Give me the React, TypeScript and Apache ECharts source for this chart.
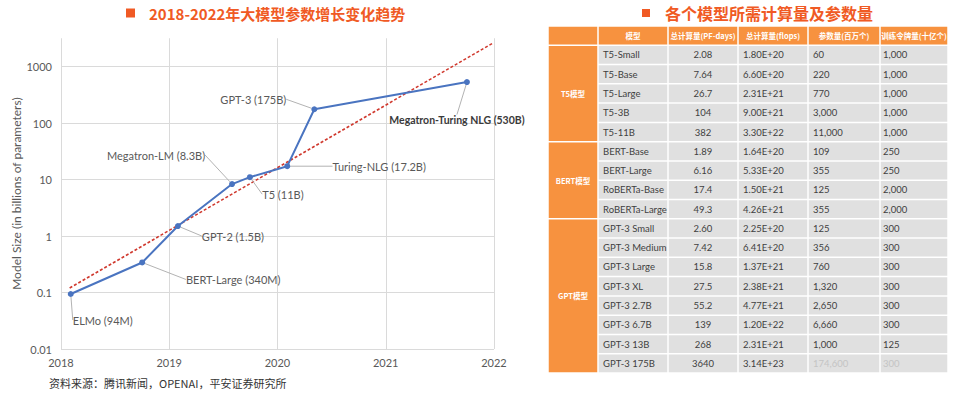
import React, { useEffect, useRef } from 'react';
import * as echarts from 'echarts';

// ---------- Left chart data ----------
const modelNames = [
  'ELMo (94M)',
  'BERT-Large (340M)',
  'GPT-2 (1.5B)',
  'Megatron-LM (8.3B)',
  'T5 (11B)',
  'Turing-NLG (17.2B)',
  'GPT-3 (175B)',
  'Megatron-Turing NLG (530B)',
];
const releaseYear = [2018.09, 2018.75, 2019.08, 2019.58, 2019.745, 2020.09, 2020.34, 2021.75];
const sizeBillions = [0.094, 0.34, 1.5, 8.3, 11, 17.2, 175, 530];
const trendYear = [2018.08, 2021.99];
const trendSize = [0.12, 2600];
const yTickValues = [0.01, 0.1, 1, 10, 100, 1000];

// ---------- Right table data ----------
const groupNames = ['T5模型', 'BERT模型', 'GPT模型'];
const groupSizes = [5, 4, 8];
const headers = ['', '模型', '总计算量(PF-days)', '总计算量(flops)', '参数量(百万个)', '训练令牌量(十亿个)'];
const tableModels = [
  'T5-Small', 'T5-Base', 'T5-Large', 'T5-3B', 'T5-11B',
  'BERT-Base', 'BERT-Large', 'RoBERTa-Base', 'RoBERTa-Large',
  'GPT-3 Small', 'GPT-3 Medium', 'GPT-3 Large', 'GPT-3 XL', 'GPT-3 2.7B', 'GPT-3 6.7B', 'GPT-3 13B', 'GPT-3 175B',
];
const pfDays = ['2.08', '7.64', '26.7', '104', '382', '1.89', '6.16', '17.4', '49.3', '2.60', '7.42', '15.8', '27.5', '55.2', '139', '268', '3640'];
const flops = ['1.80E+20', '6.60E+20', '2.31E+21', '9.00E+21', '3.30E+22', '1.64E+20', '5.33E+20', '1.50E+21', '4.26E+21', '2.25E+20', '6.41E+20', '1.37E+21', '2.38E+21', '4.77E+21', '1.20E+22', '2.31E+21', '3.14E+23'];
const paramsMillions = ['60', '220', '770', '3,000', '11,000', '109', '355', '125', '355', '125', '356', '760', '1,320', '2,650', '6,660', '1,000', '174,600'];
const tokensBillions = ['1,000', '1,000', '1,000', '1,000', '1,000', '250', '250', '2,000', '2,000', '300', '300', '300', '300', '300', '300', '125', '300'];

// ---------- Layout / style constants ----------
const LABEL_OFFSETS = [[32, 26], [91, 17], [55, 10], [-76, -29], [33, 17], [92, 0], [-61, -10], [-10, 38]];
const COL_EDGES = [0, 50, 120, 190, 260, 332, 400];
const COL_ALIGN = ['center', 'left', 'center', 'left', 'left', 'left'];
const COL_PAD = [0, 5, 0, 5, 5, 3];
const ORANGE = '#f7923f';
const TITLE_COLOR = '#f05a24';
const TEXT_GRAY = '#595959';
const LATIN = 'Lato, "Noto Sans", sans-serif';
const CJK = '"Noto Sans CJK SC", "Noto Sans", sans-serif';

type Cell = { c: number; r0: number; r1: number; text: string; kind: 'head' | 'group' | 'data'; faint?: boolean };

function buildCells(): Cell[] {
  const cells: Cell[] = [];
  headers.forEach((h, c) => cells.push({ c, r0: 0, r1: 0, text: h, kind: 'head' }));
  let start = 1;
  groupNames.forEach((g, i) => {
    cells.push({ c: 0, r0: start, r1: start + groupSizes[i] - 1, text: g, kind: 'group' });
    start += groupSizes[i];
  });
  const cols = [tableModels, pfDays, flops, paramsMillions, tokensBillions];
  tableModels.forEach((_, i) => {
    cols.forEach((col, j) => {
      const last = i === tableModels.length - 1;
      cells.push({ c: j + 1, r0: i + 1, r1: i + 1, text: col[i], kind: 'data', faint: last && j >= 3 });
    });
  });
  return cells;
}

export default function App() {
  const ref = useRef<HTMLDivElement>(null);
  useEffect(() => {
    document.body.style.margin = '0';
    const chart = echarts.init(ref.current!, null, { renderer: 'svg' });
    const cells = buildCells();
    const rowKeys = ['header', ...tableModels];

    const option: any = {
      animation: false,
      backgroundColor: '#ffffff',
      title: [
        {
          text: '2018-2022年大模型参数增长变化趋势',
          left: 149,
          top: 4,
          padding: 0,
          textStyle: { color: TITLE_COLOR, fontSize: 15, fontWeight: 'bold', fontFamily: CJK, lineHeight: 18 },
        },
        {
          text: '各个模型所需计算量及参数量',
          left: 665,
          top: 4,
          padding: 0,
          textStyle: { color: TITLE_COLOR, fontSize: 16, fontWeight: 'bold', fontFamily: CJK, lineHeight: 18 },
        },
      ],
      graphic: [
        { type: 'rect', shape: { x: 126, y: 8.5, width: 9, height: 9 }, style: { fill: TITLE_COLOR } },
        { type: 'rect', shape: { x: 642, y: 9, width: 8, height: 8 }, style: { fill: TITLE_COLOR } },
        {
          type: 'text',
          x: 49,
          y: 383,
          style: {
            text: '资料来源：腾讯新闻，OPENAI，平安证券研究所',
            fill: '#333333',
            font: '11px "Noto Sans CJK SC", sans-serif',
            verticalAlign: 'middle',
          },
        },
      ],
      grid: [
        { left: 61, top: 38.25, width: 433, height: 310.75 },
        { left: 548, top: 26, width: 400, height: 347 },
      ],
      xAxis: [
        {
          type: 'value',
          gridIndex: 0,
          min: 2018,
          max: 2022,
          interval: 1,
          axisLine: { show: false },
          axisTick: { show: false },
          axisLabel: { color: TEXT_GRAY, fontSize: 11, fontFamily: LATIN, margin: 8, formatter: (v: number) => String(v) },
          splitLine: { show: true, lineStyle: { color: '#dadada', width: 1 } },
        },
        { type: 'value', gridIndex: 1, min: 0, max: 400, show: false },
      ],
      yAxis: [
        {
          type: 'log',
          logBase: 10,
          gridIndex: 0,
          min: 0.01,
          max: 3162.2776601683795,
          axisLine: { show: false },
          axisTick: { show: false },
          axisLabel: {
            color: TEXT_GRAY,
            fontSize: 11,
            fontFamily: LATIN,
            margin: 9,
            showMaxLabel: false,
            formatter: (v: number) => {
              const hit = yTickValues.find((t) => Math.abs(Math.log10(v) - Math.log10(t)) < 1e-6);
              return hit !== undefined ? String(hit) : '';
            },
          },
          splitLine: { show: true, showMaxLine: false, lineStyle: { color: '#dadada', width: 1 } },
          name: 'Model Size (in billions of parameters)',
          nameLocation: 'middle',
          nameGap: 32,
          nameTextStyle: { color: TEXT_GRAY, fontSize: 12, fontFamily: LATIN },
        },
        {
          type: 'category',
          gridIndex: 1,
          data: rowKeys,
          inverse: true,
          show: false,
        },
      ],
      series: [
        {
          type: 'line',
          name: 'trend',
          xAxisIndex: 0,
          yAxisIndex: 0,
          data: trendYear.map((x, i) => [x, trendSize[i]]),
          symbol: 'none',
          lineStyle: { color: '#d0392e', width: 1.6, type: [3, 2] },
          z: 3,
        },
        {
          type: 'line',
          name: 'models',
          xAxisIndex: 0,
          yAxisIndex: 0,
          data: releaseYear.map((x, i) => ({
            value: [x, sizeBillions[i]],
            name: modelNames[i],
            label:
              i === modelNames.length - 1
                ? { fontWeight: 'bold', color: '#3a3a3a', fontSize: 10.5 }
                : undefined,
          })),
          symbol: 'circle',
          symbolSize: 6,
          itemStyle: { color: '#4a74c0' },
          lineStyle: { color: '#4a74c0', width: 2 },
          z: 4,
          label: {
            show: true,
            position: 'inside',
            formatter: (p: any) => p.name,
            color: TEXT_GRAY,
            fontSize: 11,
            fontFamily: LATIN,
          },
          labelLine: { show: true, lineStyle: { color: '#b3b3b3', width: 1 } },
          labelLayout: (params: any) => {
            const o = LABEL_OFFSETS[params.dataIndex];
            return { dx: o[0], dy: o[1] };
          },
        },
        {
          type: 'custom',
          xAxisIndex: 1,
          yAxisIndex: 1,
          coordinateSystem: 'cartesian2d',
          encode: { x: [0, 1], y: [2, 3] },
          clip: false,
          data: cells.map((c) => [COL_EDGES[c.c], COL_EDGES[c.c + 1], c.r0, c.r1]),
          renderItem: (params: any, api: any) => {
            const cell = cells[params.dataIndex];
            const p0 = api.coord([api.value(0), api.value(2)]);
            const p1 = api.coord([api.value(1), api.value(3)]);
            const bh = api.size([0, 1])[1];
            const left = p0[0];
            const right = p1[0];
            const top = p0[1] - bh / 2;
            const bottom = p1[1] + bh / 2;
            const g = 0.75;
            const fill = cell.kind === 'data' ? '#e0e0e0' : ORANGE;
            let tx: number;
            const align = cell.kind === 'data' ? COL_ALIGN[cell.c] : 'center';
            if (align === 'center') tx = (left + right) / 2;
            else tx = left + COL_PAD[cell.c];
            const isHead = cell.kind !== 'data';
            return {
              type: 'group',
              children: [
                {
                  type: 'rect',
                  shape: { x: left + g, y: top + g, width: right - left - 2 * g, height: bottom - top - 2 * g },
                  style: { fill },
                },
                {
                  type: 'text',
                  style: {
                    text: cell.text,
                    x: tx,
                    y: (top + bottom) / 2,
                    align,
                    verticalAlign: 'middle',
                    fill: isHead ? '#ffffff' : cell.faint ? '#c4c4c4' : '#404040',
                    fontSize: isHead ? 7.5 : 9.5,
                    fontWeight: isHead ? 'bold' : 'normal',
                    fontFamily: isHead ? CJK : LATIN,
                  },
                },
              ],
            };
          },
        },
      ],
    };
    chart.setOption(option);
    return () => chart.dispose();
  }, []);
  return <div ref={ref} style={{ width: 957, height: 398 }} />;
}
